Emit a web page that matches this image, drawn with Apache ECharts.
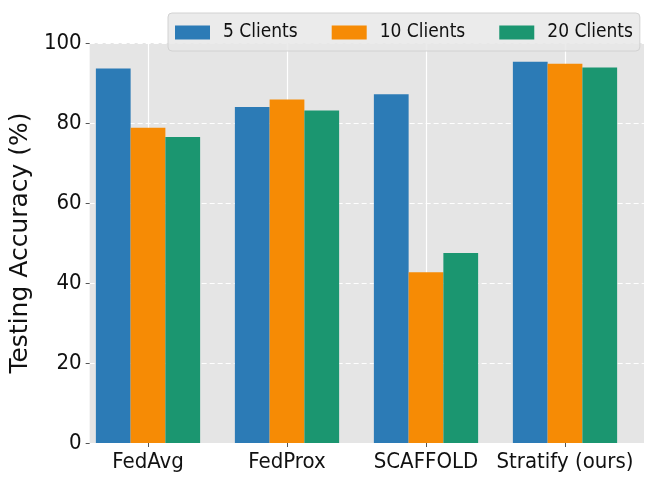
<!DOCTYPE html>
<html>
<head>
<meta charset="utf-8">
<script src="https://cdn.jsdelivr.net/npm/echarts@6/dist/echarts.min.js"></script>
<style>
html,body{margin:0;padding:0;background:#fff;}
#c{width:654px;height:491px;}
</style>
</head>
<body>
<div id="c"></div>
<script>
const categories = ['FedAvg', 'FedProx', 'SCAFFOLD', 'Stratify (ours)'];
const seriesNames = ['5 Clients', '10 Clients', '20 Clients'];
const clients5 = [93.6, 84.0, 87.2, 95.3];
const clients10 = [78.8, 85.9, 42.7, 94.8];
const clients20 = [76.5, 83.1, 47.5, 93.9];
const yTicks = [0, 20, 40, 60, 80, 100];
const colors = ['#2c7bb6', '#f68b05', '#1b9670'];

const FONT = "'DejaVu Sans Condensed', 'DejaVu Sans', sans-serif";
const FONT_REG = "'DejaVu Sans', sans-serif";
const TOP = 43, BOTTOM = 48;
const values = [clients5, clients10, clients20];

const chart = echarts.init(document.getElementById('c'), null, {renderer: 'canvas'});
chart.setOption({
  animation: false,
  textStyle: {fontFamily: FONT},
  grid: [
    {left: 71, right: 10, top: TOP, bottom: BOTTOM, show: true, backgroundColor: '#e5e5e5', borderWidth: 0, z: 0},
    {left: 148, right: 89, top: TOP, bottom: BOTTOM, show: false},
    {left: 78.5, right: 19.5, top: TOP, bottom: BOTTOM, show: false}
  ],
  legend: {
    data: seriesNames,
    left: 168, top: 13,
    padding: [10, 7, 9, 7],
    itemWidth: 35, itemHeight: 14, itemGap: 34,
    icon: 'rect',
    backgroundColor: 'rgba(232,232,232,0.85)',
    borderColor: '#d2d2d2', borderWidth: 1, borderRadius: 4,
    textStyle: {fontFamily: FONT, fontSize: 19, color: '#111', padding: [0, 0, 0, 8]},
    z: 10
  },
  xAxis: [
    {gridIndex: 0, type: 'value', min: 0, max: 1, show: false},
    {gridIndex: 1, type: 'value', min: 0, max: 3, interval: 1,
     axisLine: {show: false}, axisTick: {show: false}, axisLabel: {show: false},
     splitLine: {show: true, lineStyle: {color: '#ffffff', width: 1.2, type: 'solid'}}},
    {gridIndex: 2, type: 'category', data: categories,
     axisLine: {show: false},
     axisTick: {show: true, alignWithLabel: true, length: 4, lineStyle: {color: '#555'}},
     axisLabel: {fontFamily: FONT, fontSize: 22, color: '#111', margin: 8, interval: 0},
     splitLine: {show: false}}
  ],
  yAxis: [
    {gridIndex: 0, type: 'value', min: 0, max: 100, interval: 20,
     name: 'Testing Accuracy (%)', nameLocation: 'middle', nameGap: 36,
     nameTextStyle: {fontFamily: FONT_REG, fontSize: 25, color: '#111'},
     axisLine: {show: false},
     axisTick: {show: true, length: 4, lineStyle: {color: '#555'}},
     axisLabel: {fontFamily: FONT, fontSize: 22, color: '#111', margin: 8,
       formatter: v => yTicks.includes(v) ? String(v) : ''},
     splitLine: {show: true, lineStyle: {color: '#ffffff', width: 1, type: [5, 3]}}},
    {gridIndex: 1, type: 'value', min: 0, max: 100, show: false},
    {gridIndex: 2, type: 'value', min: 0, max: 100, show: false}
  ],
  series: seriesNames.map((name, i) => ({
    name: name,
    type: 'bar',
    xAxisIndex: 2, yAxisIndex: 2,
    data: values[i],
    barGap: '0%',
    barCategoryGap: '25%',
    itemStyle: {color: colors[i], borderWidth: 0},
    z: 2
  }))
});
</script>
</body>
</html>
